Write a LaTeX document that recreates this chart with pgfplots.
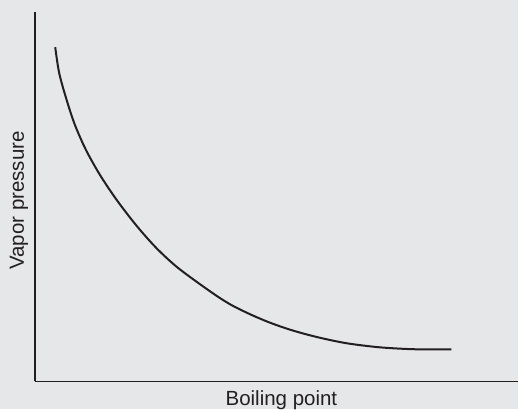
\documentclass[border=0pt]{standalone}
\usepackage{pgfplots}
\pgfplotsset{compat=1.18}
\usepackage{fontspec}
\setmainfont{Liberation Sans}
\definecolor{bg}{HTML}{E6E7E8}
\definecolor{ink}{HTML}{231F20}
\begin{document}
\begin{tikzpicture}
\fill[bg] (-35pt,-28pt) rectangle (484pt,382pt);
\begin{axis}[
  at={(0pt,0pt)}, anchor=origin,
  scale only axis, width=484pt, height=370pt,
  xmin=35, xmax=519, ymin=28, ymax=398,
  axis lines=left,
  axis line style={-, line width=1.5pt, color=ink},
  xtick=\empty, ytick=\empty,
  xlabel={Boiling point}, ylabel={Vapor pressure},
  label style={font=\fontsize{20.5}{24}\selectfont, text=ink},
  xlabel style={at={(axis description cs:0.51,0)}, anchor=base, yshift=-24pt},
  ylabel style={at={(axis description cs:0,0.49)}, anchor=base, yshift=11pt},
  clip=false,
]
\addplot[ink, line width=2pt, smooth, tension=0.5] coordinates {
(55.3,362.7) (59.3,336.7) (66.7,310) (75,285) (86,260) (100,235)
(116.7,210) (136.7,184) (156.7,161.5) (178.3,141.7) (210,118.5)
(230,105.5) (250,95.5) (270,87) (290,80) (310,74.3) (330,69.6)
(350,65.8) (380,62.2) (413,60.3) (452,60)
};
\end{axis}
\end{tikzpicture}
\end{document}
